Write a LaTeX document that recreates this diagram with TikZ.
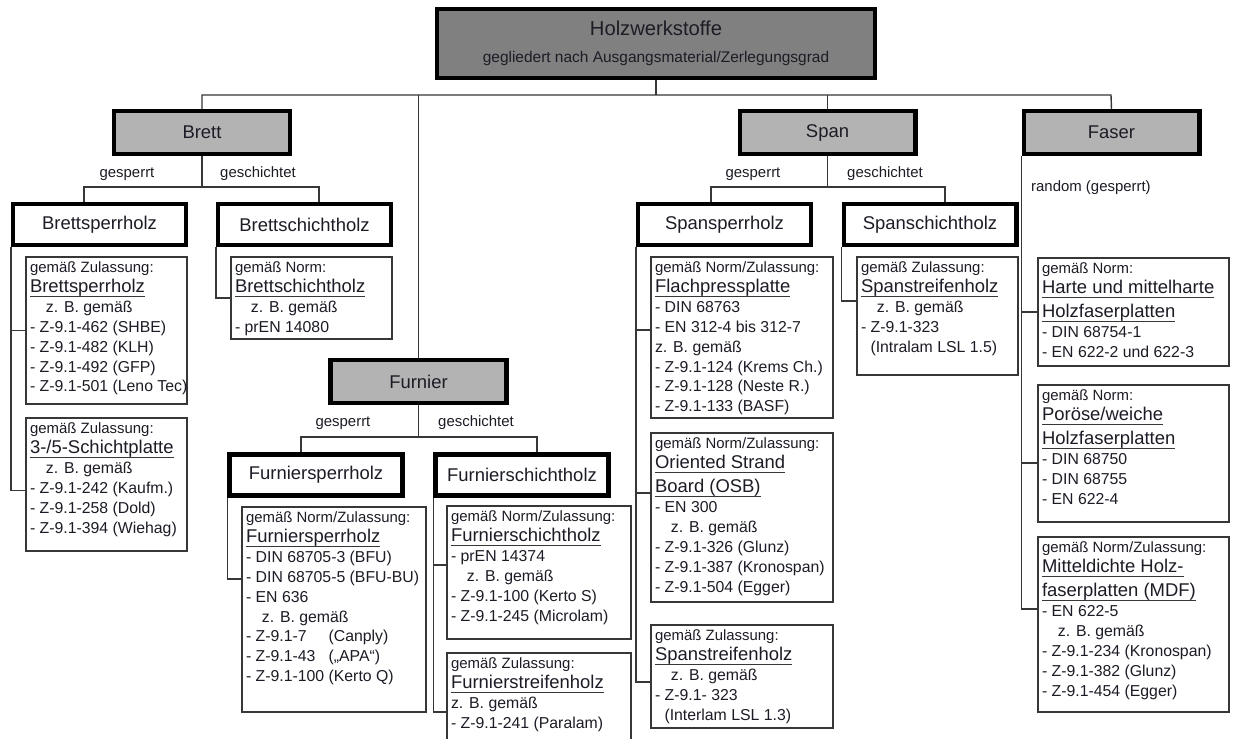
\documentclass[tikz,border=0pt]{standalone}
\usepackage{fontspec}
\setmainfont{Liberation Sans}
\usetikzlibrary{fit}
\definecolor{boxD}{RGB}{128,128,128}
\definecolor{boxL}{RGB}{179,179,179}
\definecolor{lineG}{RGB}{55,55,55}
\definecolor{txtK}{RGB}{28,28,38}
\newcommand{\hd}[1]{{\fontsize{8.5}{11.3}\selectfont #1}}
\newcommand{\ttl}[1]{{\fontsize{10.5}{11.3}\selectfont\setbox0\hbox{#1}\rlap{\color{lineG}\rule[-2.3pt]{\wd0}{0.5pt}}\box0}}
\newcommand{\zb}{\hspace*{1em}z. B. gemäß}

\begin{document}
\begin{tikzpicture}[x=0.02cm,y=-0.02cm,
  mainbox/.style={draw=black,line width=2.3pt,fill=boxD,minimum width=8.76cm,minimum height=1.38cm,align=center,text=txtK},
  grpbox/.style={draw=black,line width=2.3pt,fill=boxL,minimum width=3.52cm,minimum height=0.86cm,text=txtK,font=\fontsize{10.5}{12}\selectfont},
  kindbox/.style={draw=black,line width=2.3pt,fill=white,minimum width=3.46cm,minimum height=0.82cm,text=txtK,font=\fontsize{10.5}{12}\selectfont},
  detbox/.style={draw=lineG,line width=0.8pt,inner sep=0pt},
  dettext/.style={anchor=north west,inner sep=0pt,align=left,text=txtK,font=\fontsize{9}{11.3}\selectfont,xshift=2.5pt,yshift=-3pt},
  conn/.style={draw=lineG,line width=0.8pt},
  lab/.style={text=txtK,font=\fontsize{8.5}{10}\selectfont}]
\path[use as bounding box] (0,0) rectangle (1242,739);
\clip (0,0) rectangle (1242,739);
\fill[white] (0,0) rectangle (1242,739);

% Hauptknoten
\node[mainbox] (hws) at (656,43.5) {{\fontsize{11.5}{14}\selectfont Holzwerkstoffe}\\[3.5pt]{\fontsize{8.8}{10}\selectfont gegliedert nach Ausgangsmaterial/Zerlegungsgrad}};
\node[grpbox] (brett) at (202,132.5) {Brett};
\node[grpbox] (span) at (827.5,132.5) {Span};
\node[grpbox] (faser) at (1111.5,132.5) {Faser};
\node[grpbox] (furnier) at (418.5,381.5) {Furnier};

\node[kindbox] (bsp) at (99.5,224.5) {Brettsperrholz};
\node[kindbox] (bsh) at (304.5,224.5) {Brettschichtholz};
\node[kindbox] (ssp) at (724.5,224.5) {Spansperrholz};
\node[kindbox] (ssh) at (930,224.5) {Spanschichtholz};
\node[kindbox] (fsp) at (316,475) {Furniersperrholz};
\node[kindbox] (fsh) at (522,475) {Furnierschichtholz};

\node[lab] (bGe) at (127,174) {gesperrt};
\node[lab] (bGs) at (258,174) {geschichtet};
\node[lab] (sGe) at (753,174) {gesperrt};
\node[lab] (sGs) at (885,174) {geschichtet};
\node[lab] (fGe) at (343,423) {gesperrt};
\node[lab] (fGs) at (476,423) {geschichtet};
\node[lab,anchor=west] (fRand) at (1025,188) {random (gesperrt)};

% Verbindungen
\coordinate (barL) at (201,95); \coordinate (barR) at (1111,95);
\draw[conn] (hws.south) -- (hws.south|-barL);
\draw[conn] (brett.north) |- (barR) -- (faser.north);
\draw[conn] (span.north) -- (span.north|-barL);
\draw[conn] (furnier.north) -- (furnier.north|-barL);

\coordinate (bL) at (84,187); \coordinate (bR) at (319,187);
\draw[conn] (brett.south) -- (brett.south|-bL);
\draw[conn] (bsp.north-|bL) |- (bR) -- (bsh.north-|bR);
\coordinate (sL) at (711,187); \coordinate (sR) at (945,187);
\draw[conn] (span.south) -- (span.south|-sL);
\draw[conn] (ssp.north-|sL) |- (sR) -- (ssh.north-|sR);
\coordinate (fL) at (301,437); \coordinate (fR) at (537,437);
\draw[conn] (furnier.south) -- (furnier.south|-fL);
\draw[conn] (fsp.north-|fL) |- (fR) -- (fsh.north-|fR);

% Brett
\node[detbox,fit={(26,257) (187,404)}] (dBsp) {};
\node[dettext] (tBsp) at (dBsp.north west) {\hd{gemäß Zulassung:}\\ \ttl{Brettsperrholz}\\ \zb\\ - Z-9.1-462 (SHBE)\\ - Z-9.1-482 (KLH)\\ - Z-9.1-492 (GFP)\\ - Z-9.1-501 (Leno Tec)};
\node[detbox,fit={(26,418) (187,551)}] (dBsp2) {};
\node[dettext] (tBsp2) at (dBsp2.north west) {\hd{gemäß Zulassung:}\\ \ttl{3-/5-Schichtplatte}\\ \zb\\ - Z-9.1-242 (Kaufm.)\\ - Z-9.1-258 (Dold)\\ - Z-9.1-394 (Wiehag)};
\node[detbox,fit={(231,257) (392,339)}] (dBsh) {};
\node[dettext] (tBsh) at (dBsh.north west) {\hd{gemäß Norm:}\\ \ttl{Brettschichtholz}\\ \zb\\ - prEN 14080};
\draw[conn] (bsp.south west) |- (dBsp.west);
\draw[conn] (bsp.south west) |- ([yshift=-3.5pt]dBsp2.west);
\draw[conn] (bsh.south west) |- (dBsh.west);

% Furnier
\node[detbox,fit={(242,507) (426,712)}] (dFsp) {};
\node[dettext] (tFsp) at (dFsp.north west) {\hd{gemäß Norm/Zulassung:}\\ \ttl{Furniersperrholz}\\ - DIN 68705-3 (BFU)\\ - DIN 68705-5 (BFU-BU)\\ - EN 636\\ \zb\\ - Z-9.1-7\phantom{00} (Canply)\\ - Z-9.1-43\phantom{0} („APA“)\\ - Z-9.1-100 (Kerto Q)};
\node[detbox,fit={(447,506) (631,639)}] (dFsh) {};
\node[dettext] (tFsh) at (dFsh.north west) {\hd{gemäß Norm/Zulassung:}\\ \ttl{Furnierschichtholz}\\ - prEN 14374\\ \zb\\ - Z-9.1-100 (Kerto S)\\ - Z-9.1-245 (Microlam)};
\node[detbox,fit={(447,653) (631,771)}] (dFst) {};
\node[dettext] (tFst) at (dFst.north west) {\hd{gemäß Zulassung:}\\ \ttl{Furnierstreifenholz}\\ z. B. gemäß\\ - Z-9.1-241 (Paralam)};
\draw[conn] (fsp.south west) |- ([yshift=17.3pt]dFsp.west);
\draw[conn] (fsh.south west) |- ([yshift=4.3pt]dFsh.west);
\draw[conn] (fsh.south west) |- (dFst.west);

% Span
\node[detbox,fit={(651,257) (833,418)}] (dFlp) {};
\node[dettext] (tFlp) at (dFlp.north west) {\hd{gemäß Norm/Zulassung:}\\ \ttl{Flachpressplatte}\\ - DIN 68763\\ - EN 312-4 bis 312-7\\ z. B. gemäß\\ - Z-9.1-124 (Krems Ch.)\\ - Z-9.1-128 (Neste R.)\\ - Z-9.1-133 (BASF)};
\node[detbox,fit={(651,433) (833,602)}] (dOsb) {};
\node[dettext] (tOsb) at (dOsb.north west) {\hd{gemäß Norm/Zulassung:}\\ \ttl{Oriented Strand}\\[2.5pt] \ttl{Board (OSB)}\\ - EN 300\\ \zb\\ - Z-9.1-326 (Glunz)\\ - Z-9.1-387 (Kronospan)\\ - Z-9.1-504 (Egger)};
\node[detbox,fit={(651,625) (833,728)}] (dSst) {};
\node[dettext] (tSst) at (dSst.north west) {\hd{gemäß Zulassung:}\\ \ttl{Spanstreifenholz}\\ \zb\\ - Z-9.1- 323\\ \hspace*{0.6em}(Interlam LSL 1.3)};
\node[detbox,fit={(857,257) (1018,375)}] (dSsh) {};
\node[dettext] (tSsh) at (dSsh.north west) {\hd{gemäß Zulassung:}\\ \ttl{Spanstreifenholz}\\ \zb\\ - Z-9.1-323\\ \hspace*{0.6em}(Intralam LSL 1.5)};
\draw[conn] (ssp.south west) |- ([yshift=4.3pt]dFlp.west);
\draw[conn] (ssp.south west) |- ([yshift=13.9pt]dOsb.west);
\draw[conn] (ssp.south west) |- ([yshift=-3.1pt]dSst.west);
\draw[conn] (ssh.south west) |- ([yshift=8.5pt]dSsh.west);

% Faser
\node[detbox,fit={(1038,258) (1229,366)}] (dHart) {};
\node[dettext] (tHart) at (dHart.north west) {\hd{gemäß Norm:}\\ \ttl{Harte und mittelharte}\\[2.5pt] \ttl{Holzfaserplatten}\\ - DIN 68754-1\\ - EN 622-2 und 622-3};
\node[detbox,fit={(1038,385) (1229,522)}] (dPor) {};
\node[dettext] (tPor) at (dPor.north west) {\hd{gemäß Norm:}\\ \ttl{Poröse/weiche}\\[2.5pt] \ttl{Holzfaserplatten}\\ - DIN 68750\\ - DIN 68755\\ - EN 622-4};
\node[detbox,fit={(1038,537) (1229,712)}] (dMdf) {};
\node[dettext] (tMdf) at (dMdf.north west) {\hd{gemäß Norm/Zulassung:}\\ \ttl{Mitteldichte Holz-}\\[2.5pt] \ttl{faserplatten (MDF)}\\ - EN 622-5\\ \zb\\ - Z-9.1-234 (Kronospan)\\ - Z-9.1-382 (Glunz)\\ - Z-9.1-454 (Egger)};
\draw[conn] (faser.south west) |- (dHart.west);
\draw[conn] (faser.south west) |- ([yshift=-5.4pt]dPor.west);
\draw[conn] (faser.south west) |- ([yshift=8.8pt]dMdf.west);
\end{tikzpicture}
\end{document}
